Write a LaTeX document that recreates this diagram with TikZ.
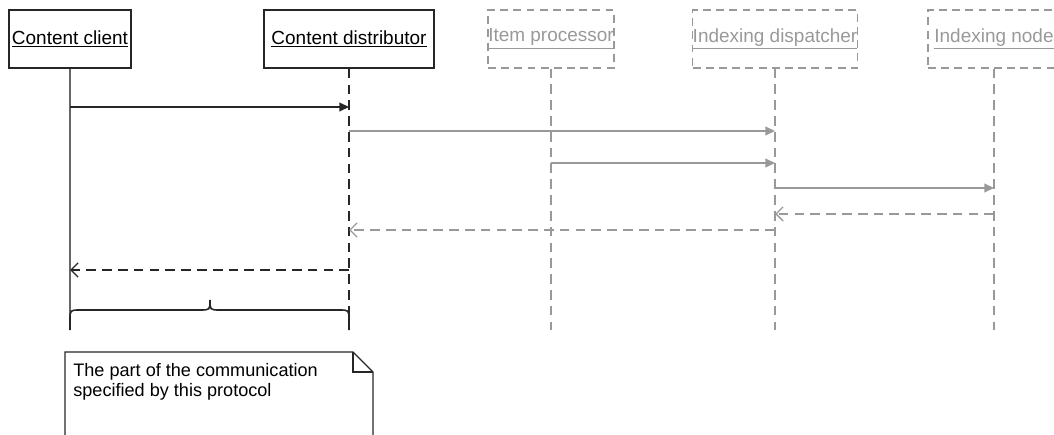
\documentclass[tikz,border=0pt]{standalone}
\usepackage{fontspec}
\setmainfont{Liberation Sans}
\usetikzlibrary{arrows.meta}

\definecolor{lightline}{gray}{0.6}
\definecolor{darkline}{gray}{0.15}

\begin{document}
\begin{tikzpicture}[
  x=0.02cm, y=-0.02cm,
  font=\fontsize{10.3}{11.5}\selectfont,
  actor/.style={draw=darkline, line width=0.8pt, minimum height=1.16cm, inner sep=0pt, font=\fontsize{10.8}{12}\selectfont},
  ghost/.style={draw=lightline, line width=0.7pt, dash pattern=on 4.5pt off 3pt, minimum height=1.16cm, inner sep=0pt, text=lightline, font=\fontsize{10.8}{12}\selectfont},
  clientlife/.style={draw=black!60, line width=1.1pt},
  life/.style={draw=darkline, line width=0.8pt, dash pattern=on 5.5pt off 3.5pt},
  ghostlife/.style={draw=lightline, line width=0.7pt, dash pattern=on 5.5pt off 3.5pt},
  call/.style={-{Triangle[length=5.5pt,width=5pt]}, line width=0.8pt, draw=darkline},
  ghostcall/.style={call, draw=lightline},
  reply/.style={-{Straight Barb[length=4pt,width=8pt]}, line width=0.8pt, draw=darkline, dash pattern=on 5.5pt off 3.5pt},
  ghostreply/.style={reply, draw=lightline},
  bracket/.style={draw=darkline, line width=0.9pt},
  notebox/.style={draw=darkline, line width=0.8pt}
]
\useasboundingbox (0,0) rectangle (1054,435);

% participants
\node[actor, minimum width=2.44cm] (client) at (70,39) {\underline{Content client}};
\node[actor, minimum width=3.4cm] (distributor) at (349,39) {\underline{Content distributor}};
\node[ghost, minimum width=2.52cm] (itemproc) at (551,39) {\underline{Item processor}};
\node[ghost, minimum width=3.24cm] (dispatcher) at (775,39) {\underline{Indexing dispatcher}};
\node[ghost, minimum width=2.64cm] (idxnode) at (994,39) {\underline{Indexing node}};

% rows
\coordinate (bottom) at (0,330);
\coordinate (m1) at (0,107);
\coordinate (m2) at (0,131);
\coordinate (m3) at (0,163);
\coordinate (m4) at (0,188);
\coordinate (m5) at (0,214);
\coordinate (m6) at (0,230);
\coordinate (m7) at (0,270);

% lifelines
\draw[clientlife] (client.south) -- (client.south |- bottom);
\draw[life] (distributor.south) -- (distributor.south |- bottom);
\foreach \n in {itemproc,dispatcher,idxnode}
  \draw[ghostlife] (\n.south) -- (\n.south |- bottom);

% messages
\draw[call] (client |- m1) -- (distributor |- m1);
\draw[ghostcall] (distributor |- m2) -- (dispatcher |- m2);
\draw[ghostcall] (itemproc |- m3) -- (dispatcher |- m3);
\draw[ghostcall] (dispatcher |- m4) -- (idxnode |- m4);
\draw[ghostreply] (idxnode |- m5) -- (dispatcher |- m5);
\draw[ghostreply] (dispatcher |- m6) -- (distributor |- m6);
\draw[reply] (distributor |- m7) -- (client |- m7);

% brace over the protocol part
\draw[bracket] (70,330) -- (70,320) .. controls (70,310) .. (80,310) -- (200,310)
  .. controls (210,310) .. (210,300) .. controls (210,310) .. (220,310) -- (339,310)
  .. controls (349,310) .. (349,320) -- (349,330);

% note
\node[anchor=north west, align=left, inner xsep=0.16cm, inner ysep=0.22cm] (note) at (65,352)
  {The part of the communication\\specified by this protocol};
\draw[notebox] (note.north west) ++(0,90) -- (note.north west) -- ++(288,0) coordinate (fold)
  -- ++(20,20) -- ++(0,70);
\draw[notebox] (fold) -- ++(0,20) -- ++(20,0);

\end{tikzpicture}
\end{document}
